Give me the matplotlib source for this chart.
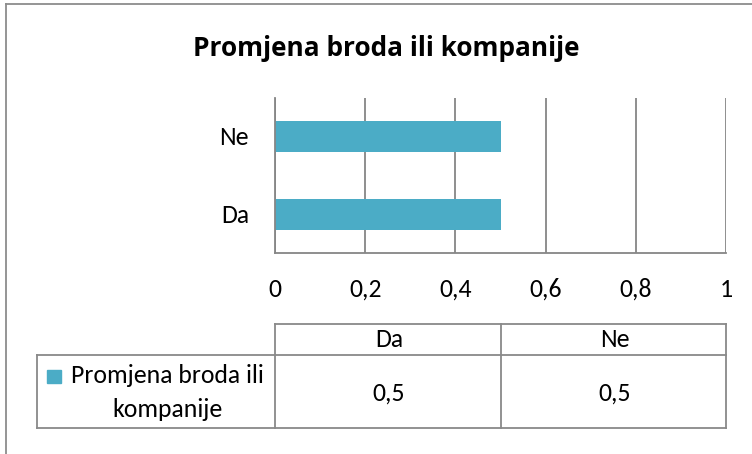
import matplotlib
matplotlib.use("Agg")
import matplotlib.pyplot as plt
from matplotlib.patches import Rectangle
from matplotlib.lines import Line2D

title = "Promjena broda ili kompanije"
categories = ["Da", "Ne"]
values = [0.5, 0.5]
series_lines = ["Promjena broda ili", "kompanije"]
xticks = [0, 0.2, 0.4, 0.6, 0.8, 1]
xtick_labels = ["0", "0,2", "0,4", "0,6", "0,8", "1"]

W, H = 752, 454
bar_color = "#4BACC6"
grid_color = "#868686"
body_font = ["Carlito", "Open Sans", "DejaVu Sans"]
title_font = ["Open Sans", "DejaVu Sans"]
fs = 18.5
plt.rcParams["font.family"] = body_font

fig = plt.figure(figsize=(W / 100, H / 100), dpi=100)
fig.patch.set_facecolor("white")

# plot area in pixel coordinates
px_l, px_r, px_t, px_b = 275, 726, 98, 253
ax = fig.add_axes([px_l / W, 1 - px_b / H, (px_r - px_l) / W, (px_b - px_t) / H])
ax.barh(range(len(categories)), values, height=0.395, color=bar_color, zorder=3)
ax.set_xlim(0, 1)
ax.set_ylim(-0.5, len(categories) - 0.5)
ax.set_xticks(xticks)
ax.set_yticks(range(len(categories)))
ax.set_xticklabels([])
ax.set_yticklabels([])
ax.tick_params(axis="both", length=0)
ax.grid(axis="x", color=grid_color, linewidth=1.3, zorder=0)
for side in ["top", "right"]:
    ax.spines[side].set_visible(False)
for side in ["left", "bottom"]:
    ax.spines[side].set_color(grid_color)
    ax.spines[side].set_linewidth(1.3)
    ax.spines[side].set_zorder(4)

# overlay in pixel space for frame, title, labels and data table
ov = fig.add_axes([0, 0, 1, 1], facecolor="none")
ov.set_xlim(0, W)
ov.set_ylim(H, 0)
ov.axis("off")

# chart frame
ov.add_line(Line2D([6, W], [4, 4], color="#8c8c8c", lw=1.3))
ov.add_line(Line2D([6, 6], [4, H], color="#8c8c8c", lw=1.3))

ov.text(386.5, 56.5, title, ha="center", va="baseline", fontsize=18.9,
        fontweight="bold", family=title_font)

# axis labels placed from the data scales
for t, lab in zip(xticks, xtick_labels):
    x = px_l + t * (px_r - px_l)
    ov.text(x, 297, lab, ha="center", va="baseline", fontsize=fs)
band = (px_b - px_t) / len(categories)
for i, cat in enumerate(categories):
    y = px_b - band * (i + 0.5)
    ov.text(249, y + 8.5, cat, ha="right", va="baseline", fontsize=fs)

# data table
col_edges = [37, 275, 501, 726]
row_edges = [324, 355, 428]
lc = "#898989"
lw = 1.3
ov.add_line(Line2D([col_edges[1], col_edges[3]], [row_edges[0]] * 2, color=lc, lw=lw))
ov.add_line(Line2D([col_edges[0], col_edges[3]], [row_edges[1]] * 2, color=lc, lw=lw))
ov.add_line(Line2D([col_edges[0], col_edges[3]], [row_edges[2]] * 2, color=lc, lw=lw))
ov.add_line(Line2D([col_edges[0]] * 2, [row_edges[1], row_edges[2]], color=lc, lw=lw))
for x in col_edges[1:]:
    ov.add_line(Line2D([x, x], [row_edges[0], row_edges[2]], color=lc, lw=lw))

for i, (cat, val) in enumerate(zip(categories, values)):
    cx = (col_edges[i + 1] + col_edges[i + 2]) / 2 + 1
    ov.text(cx, 347, cat, ha="center", va="baseline", fontsize=fs)
    ov.text(cx, 401, f"{val:g}".replace(".", ","),
            ha="center", va="baseline", fontsize=fs)

ov.add_patch(Rectangle((47, 370), 14, 13, color=bar_color))
for line, base in zip(series_lines, [383, 417]):
    ov.text(167, base, line, ha="center", va="baseline", fontsize=fs)

fig.savefig("out.png", dpi=100)
